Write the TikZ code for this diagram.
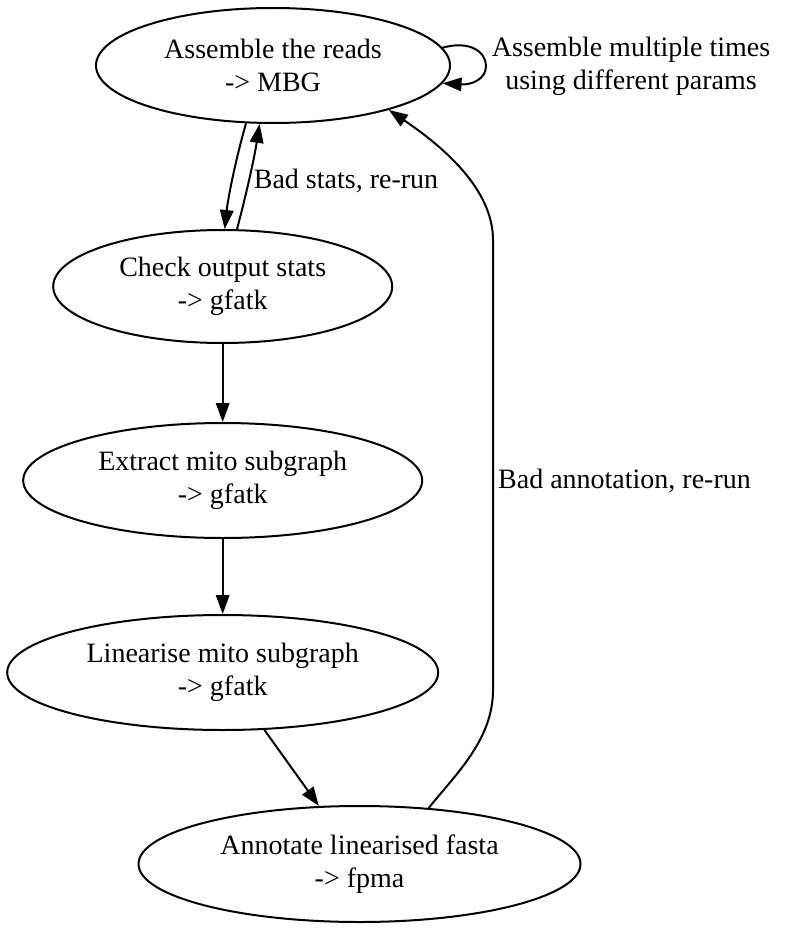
\documentclass[tikz,border=0pt]{standalone}
\usepackage{fontspec}
\setmainfont{Liberation Serif}
\usetikzlibrary{shapes.geometric,arrows.meta}
\begin{document}
\begin{tikzpicture}[x=1pt,y=-1pt,
  every node/.style={font=\fontsize{28}{33}\selectfont, align=center, inner sep=0pt},
  stepnode/.style={ellipse, draw, line width=2pt},
  edge/.style={line width=2pt, -{Triangle[length=19pt,width=13.5pt]}},
  lbl/.style={}]
\useasboundingbox (0,0) rectangle (786,931);
\node[stepnode, minimum width=354pt, minimum height=115pt] (n1) at (273,65.5) {Assemble the reads\\-> MBG};
\node[stepnode, minimum width=339pt, minimum height=113pt] (n2) at (222.7,286.5) {Check output stats\\-> gfatk};
\node[stepnode, minimum width=399pt, minimum height=115pt] (n3) at (222.7,480.5) {Extract mito subgraph\\-> gfatk};
\node[stepnode, minimum width=431pt, minimum height=115pt] (n4) at (222.7,672.5) {Linearise mito subgraph\\-> gfatk};
\node[stepnode, minimum width=442pt, minimum height=116pt] (n5) at (359.5,864) {Annotate linearised fasta\\-> fpma};
\node[lbl] (l1) at (631,66) {Assemble multiple times\\using different params};
\node[lbl] (l2) at (346,181) {Bad stats, re-run};
\node[lbl] (l3) at (624.5,481) {Bad annotation, re-run};
\draw[edge] (n1.6.5) .. controls (470,40) and (486,52) .. (486,66) .. controls (486,79) and (472,85) .. (n1.354.3);
\draw[edge] (n1.245.4) .. controls (236,158) and (228,198) .. (n2.88);
\draw[edge] (n2.76.7) .. controls (246,195) and (254,160) .. (n1.257.2);
\draw[edge] (n2.south) -- (n3.north);
\draw[edge] (n3.south) -- (n4.north);
\draw[edge] (n4.306.2) -- (n5.125.4);
\draw[edge] (n5.39.3) .. controls (455,775) and (493,740) .. (493,690) -- (493,240) .. controls (493,190) and (445,148) .. (n1.339.2);
\end{tikzpicture}
\end{document}
